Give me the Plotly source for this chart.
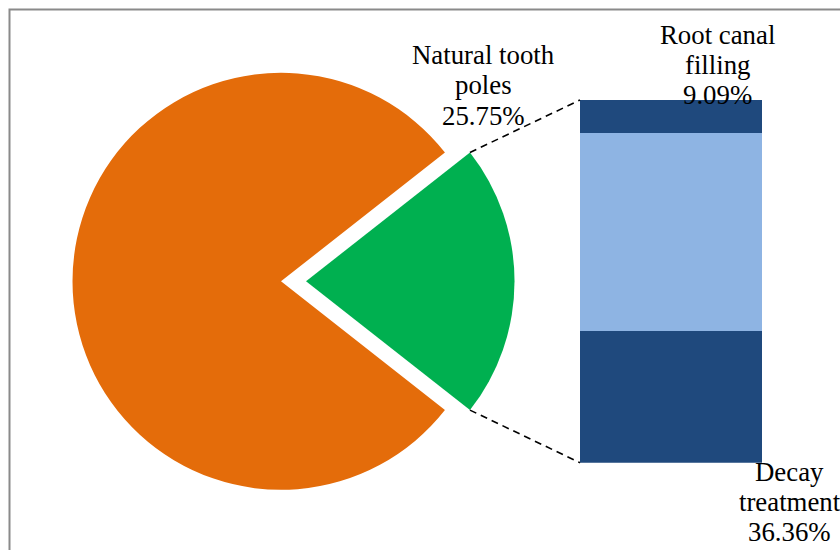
import math
import plotly.graph_objects as go

# ---- data ----
pie_labels = ["Natural tooth poles", "Other"]
pie_values = [21.2, 78.8]          # slice sizes as drawn
pie_label_lines = ["Natural tooth", "poles", "25.75%"]

bar_labels = ["Decay treatment", "Other treatment", "Root canal filling"]
bar_values = [36.36, 54.55, 9.09]
root_label_lines = ["Root canal", "filling", "9.09%"]
decay_label_lines = ["Decay", "treatment", "36.36%"]

# ---- style ----
W, H = 840, 550
pie_colors = ["#00B050", "#E46C0A"]
bar_colors = ["#1F497D", "#8EB4E3", "#1F497D"]
PULL = 0.12
FONT = "Liberation Serif"
FS = 26.8

cx_px, cy_px, r_px = 281.0, 281.3, 208.5
half_box = r_px * (1 + PULL)
pie_dom_x = [(cx_px - half_box) / W, (cx_px + half_box) / W]
pie_dom_y = [1 - (cy_px + half_box) / H, 1 - (cy_px - half_box) / H]

bar_dom_x = [580 / W, 762 / W]
bar_dom_y = [1 - 462.7 / H, 1 - 100 / H]

total = sum(pie_values)
green_angle = 360.0 * pie_values[0] / total
rotation = 90 - green_angle / 2

fig = go.Figure()
fig.add_trace(go.Pie(
    labels=pie_labels, values=pie_values, sort=False, direction="clockwise",
    rotation=rotation, pull=[PULL, 0], textinfo="none",
    marker=dict(colors=pie_colors, line=dict(width=0)),
    domain=dict(x=pie_dom_x, y=pie_dom_y), showlegend=False, hoverinfo="label+percent",
))

for lab, val, col in zip(bar_labels, bar_values, bar_colors):
    fig.add_trace(go.Bar(x=[0], y=[val], name=lab, marker=dict(color=col, line=dict(width=0)),
                         width=1, showlegend=False, xaxis="x", yaxis="y"))

# connectors: green slice edge corners -> bar corners
half = math.radians(green_angle / 2)
apex_x = cx_px + PULL * r_px
pts_top = (apex_x + r_px * math.cos(half), cy_px - r_px * math.sin(half))
pts_bot = (apex_x + r_px * math.cos(half), cy_px + r_px * math.sin(half))
dash_line = dict(color="black", width=1.6, dash="7px,5px")
shapes = [
    dict(type="line", xref="paper", yref="paper",
         x0=pts_top[0] / W, y0=1 - pts_top[1] / H, x1=bar_dom_x[0], y1=bar_dom_y[1],
         line=dash_line),
    dict(type="line", xref="paper", yref="paper",
         x0=pts_bot[0] / W, y0=1 - pts_bot[1] / H, x1=bar_dom_x[0], y1=bar_dom_y[0],
         line=dash_line),
    dict(type="rect", xref="paper", yref="paper",
         x0=9.5 / W, y0=-0.1, x1=1.1, y1=1 - 9.5 / H,
         line=dict(color="#8a8a8a", width=2), fillcolor="rgba(0,0,0,0)"),
]

annotations = []
def add_lines(lines, x_px, baselines):
    for t, b in zip(lines, baselines):
        annotations.append(dict(
            text=t, x=x_px / W, y=1 - (b - 8.5) / H, xref="paper", yref="paper",
            xanchor="center", yanchor="middle", showarrow=False,
            font=dict(family=FONT, size=FS, color="black")))

add_lines(pie_label_lines, 483.5, [63.3, 93.5, 124.5])
add_lines(root_label_lines, 717.5, [43.3, 73.3, 103.3])
add_lines(decay_label_lines, 789.5, [480, 510, 540])

fig.update_layout(
    width=W, height=H, margin=dict(l=0, r=0, t=0, b=0),
    paper_bgcolor="white", plot_bgcolor="rgba(0,0,0,0)",
    barmode="stack", bargap=0,
    xaxis=dict(domain=bar_dom_x, range=[-0.5, 0.5], visible=False, fixedrange=True),
    yaxis=dict(domain=bar_dom_y, range=[0, 100], visible=False, fixedrange=True),
    shapes=shapes, annotations=annotations,
)

fig.write_html(
    "out.html",
    config={"displayModeBar": False},
    post_script="document.body.style.margin='0';document.body.style.overflow='hidden';",
)
